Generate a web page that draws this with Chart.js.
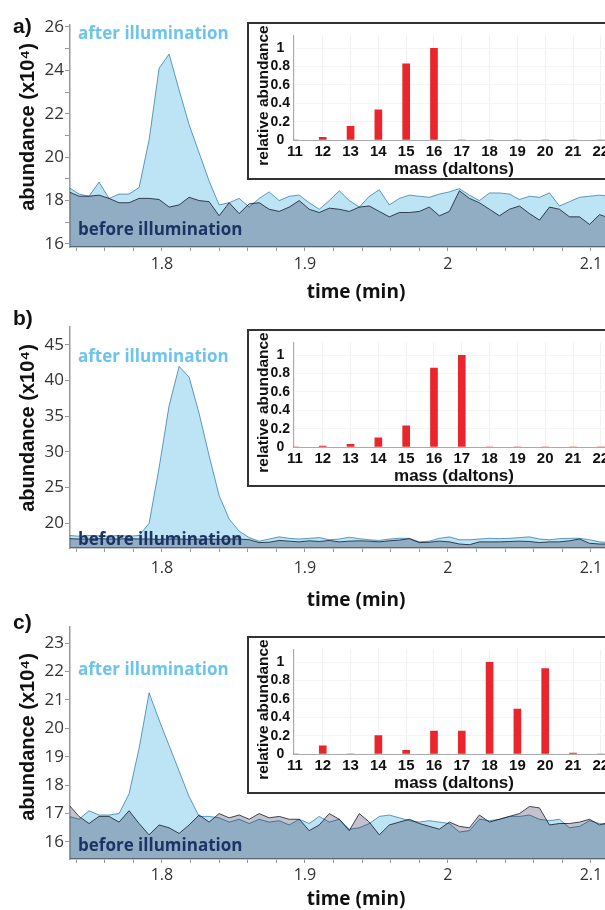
<!DOCTYPE html>
<html><head><meta charset="utf-8">
<script src="https://cdn.jsdelivr.net/npm/chart.js@4"></script>
<style>
html,body{margin:0;padding:0;background:#fff;}
body{width:605px;height:910px;overflow:hidden;position:relative;}
canvas{display:block;}
.mainc{position:absolute;left:0;}
.inset{position:absolute;left:247px;width:366px;height:154px;border:2px solid #333;background:#fff;}
.lbl{position:absolute;left:13px;font-family:"Liberation Sans",Arial,sans-serif;font-weight:bold;font-size:21px;line-height:21px;color:#111;}
.after,.before{position:absolute;left:78px;font-family:"Open Sans",sans-serif;font-weight:700;font-size:17px;line-height:20px;white-space:nowrap;}
.after{color:#6cc4ec;}
.before{color:#1c3366;}
</style>
</head>
<body>
<canvas id="mA" class="mainc" width="642" height="302" style="top:0px"></canvas>
<canvas id="mB" class="mainc" width="642" height="308" style="top:302px"></canvas>
<canvas id="mC" class="mainc" width="642" height="307" style="top:602px"></canvas>
<div class="lbl" style="top:15px">a)</div>
<div class="lbl" style="top:307px">b)</div>
<div class="lbl" style="top:611px">c)</div>
<div class="after" style="top:23px">after illumination</div>
<div class="before" style="top:219px">before illumination</div>
<div class="after" style="top:346px">after illumination</div>
<div class="before" style="top:529px">before illumination</div>
<div class="after" style="top:659px">after illumination</div>
<div class="before" style="top:835px">before illumination</div>
<div class="inset" style="top:22px"><canvas id="iA" width="366" height="154"></canvas></div>
<div class="inset" style="top:329px"><canvas id="iB" width="366" height="154"></canvas></div>
<div class="inset" style="top:636px"><canvas id="iC" width="366" height="154"></canvas></div>
<script>
// ---- data ----
const times = [1.735,1.742,1.749,1.756,1.763,1.770,1.777,1.784,1.791,1.798,1.805,1.812,1.819,1.826,1.833,1.840,1.847,1.854,1.861,1.868,1.875,1.882,1.889,1.896,1.903,1.910,1.917,1.924,1.931,1.938,1.945,1.952,1.959,1.966,1.973,1.980,1.987,1.994,2.001,2.008,2.015,2.022,2.029,2.036,2.043,2.050,2.057,2.064,2.071,2.078,2.085,2.092,2.099,2.106,2.113];

const afterA = [18.6,18.3,18.2,18.85,18.1,18.3,18.3,18.6,20.8,24.1,24.75,23.1,21.5,20.2,18.9,17.8,17.9,18.1,17.7,18.1,18.4,18.0,18.2,18.25,17.9,17.6,18.0,18.45,18.0,17.7,18.2,18.5,17.8,18.1,18.25,18.2,18.15,18.3,18.4,18.55,18.25,18.0,18.35,18.35,18.3,18.05,18.2,18.15,18.35,17.75,17.95,18.15,18.2,18.25,18.2];
const beforeA = [18.4,18.2,18.2,18.25,18.1,17.9,17.9,18.1,18.1,18.05,17.7,17.8,18.15,18.0,17.95,17.3,17.9,17.4,17.85,17.9,17.6,17.5,17.7,18.0,17.6,17.45,17.65,17.6,17.5,17.7,17.75,17.5,17.25,17.45,17.45,17.5,17.7,17.3,17.5,18.45,18.1,17.9,17.6,17.3,17.6,17.75,17.4,17.1,17.7,17.6,17.25,17.25,16.9,17.35,17.2];

const afterB = [18.3,18.2,18.3,18.25,18.2,18.3,18.2,18.3,20.0,27.8,36.5,42.0,40.5,35.4,29.5,23.9,20.6,18.9,18.0,17.5,17.8,18.1,17.9,17.8,17.9,18.0,17.7,17.8,18.05,17.85,17.7,17.6,17.8,17.9,17.9,17.4,17.5,17.9,18.1,17.7,17.7,17.8,17.9,17.85,17.9,18.0,18.1,17.8,17.7,17.85,17.9,17.9,17.7,17.4,17.3];
const beforeB = [17.85,17.8,17.8,17.85,17.8,17.8,17.85,17.8,17.8,17.75,17.8,17.8,17.75,17.8,17.8,17.75,17.8,17.8,17.7,17.3,17.35,17.6,17.5,17.4,17.55,17.45,17.6,17.4,17.5,17.55,17.5,17.4,17.55,17.65,17.85,17.3,17.35,17.5,17.4,17.1,17.0,17.4,17.4,17.4,17.45,17.5,17.45,17.3,17.4,17.4,17.55,17.8,17.2,17.1,17.1];

const afterC = [16.9,16.8,17.1,16.95,16.95,17.0,17.7,19.3,21.25,20.3,19.4,18.5,17.6,16.9,16.9,16.85,16.7,16.8,16.65,16.8,16.7,16.75,16.6,16.8,16.65,16.9,16.7,16.8,16.45,16.5,16.65,16.9,16.95,16.85,16.75,16.7,16.75,16.7,16.65,16.35,16.4,16.8,16.75,16.8,16.9,16.9,16.95,16.8,16.75,16.8,16.5,16.55,16.75,16.65,16.6];
const beforeC = [17.3,16.9,16.65,16.9,16.9,16.7,17.1,16.65,16.25,16.6,16.5,16.3,16.6,16.95,16.7,17.0,16.85,16.95,16.8,17.0,16.85,16.9,16.8,16.8,16.4,16.6,17.0,16.8,16.4,17.0,16.7,16.25,16.6,16.7,16.8,16.65,16.55,16.45,16.7,16.55,16.5,16.95,16.7,16.8,16.9,17.0,17.25,17.2,16.6,16.65,16.65,16.7,16.8,16.6,16.7];

const masses = [11,12,13,14,15,16,17,18,19,20,21,22];
const insetA = [0,0.03,0.15,0.33,0.83,1.0,0,0,0,0,0,0];
const insetB = [0,0.01,0.03,0.10,0.23,0.86,1.0,0,0,0,0,0];
const insetC = [0,0.09,0,0.20,0.04,0.25,0.25,1.0,0.49,0.93,0.01,0];

// ---- ticks ----
const xTickVals = [1.74,1.76,1.78,1.80,1.82,1.84,1.86,1.88,1.90,1.92,1.94,1.96,1.98,2.00,2.02,2.04,2.06,2.08,2.10,2.12];
const xTickLabelVals = [1.8,1.9,2.0,2.1];
const yTicksA = [16,17,18,19,20,21,22,23,24,25,26];
const yLabelsA = [16,18,20,22,24,26];
const yTicksB = [20,25,30,35,40,45];
const yLabelsB = [20,25,30,35,40,45];
const yTicksC = [16,17,18,19,20,21,22,23];
const yLabelsC = [16,17,18,19,20,21,22,23];
const insetYTicks = [0,0.2,0.4,0.6,0.8,1];

const multiplyPlugin = {
  id:'multiplyFill',
  beforeDatasetsDraw(chart){ chart.ctx.save(); chart.ctx.globalCompositeOperation = 'multiply'; },
  afterDatasetsDraw(chart){ chart.ctx.restore(); }
};

// vertical axis title placed at a given point
const sideTitle = {
  id:'sideTitle',
  afterDraw(chart, args, o){
    const ctx = chart.ctx; ctx.save();
    ctx.translate(o.x, o.y); ctx.rotate(-Math.PI/2);
    ctx.font = o.font; ctx.fillStyle = o.color || '#111';
    ctx.textAlign = 'center'; ctx.textBaseline = 'middle';
    ctx.fillText(o.text, 0, 0); ctx.restore();
  }
};

function pts(vals){ return times.map((t,i)=>({x:t, y:vals[i]})); }

function mainChart(id, after, before, g){
  new Chart(document.getElementById(id), {
    type:'line',
    data:{datasets:[
      {data:pts(after), borderColor:'rgb(105,160,192)', borderWidth:1, backgroundColor:'rgb(188,228,245)', fill:'start', pointRadius:0, tension:0},
      {data:pts(before), borderColor:'rgb(70,76,88)', borderWidth:1, backgroundColor:'rgb(196,194,204)', fill:'start', pointRadius:0, tension:0}
    ]},
    options:{
      responsive:false, animation:false, events:[],
      layout:{padding:{top:g.padTop, left:0, right:0, bottom:0}},
      plugins:{legend:{display:false}, tooltip:{enabled:false},
        sideTitle:{text:'abundance (x10⁴)', x:28, y:g.titleY, font:'bold 20px "Liberation Sans", Arial, sans-serif', color:'#111'}},
      scales:{
        x:{type:'linear', min:1.7357, max:2.1357,
          afterBuildTicks:s=>{ s.ticks = xTickVals.map(v=>({value:v})); },
          afterFit:s=>{ s.height = g.xAxisH; },
          ticks:{autoSkip:false, maxRotation:0, padding:g.xPad, color:'#333', font:{family:'Open Sans', size:16},
            callback:v=> xTickLabelVals.some(l=>Math.abs(l-v)<1e-6) ? String(+(+v).toFixed(1)) : ''},
          grid:{drawOnChartArea:false, drawTicks:true, tickLength:4, color:'#999', lineWidth:1},
          border:{color:'#999', width:1.5},
          title:{display:true, text:'time (min)', color:'#111', font:{family:'Open Sans', weight:'bold', size:19, lineHeight:1}, padding:{top:0, bottom:0}}
        },
        y:{type:'linear', min:g.yMin, max:g.yMax,
          afterBuildTicks:s=>{ s.ticks = g.yTicks.map(v=>({value:v})); },
          afterFit:s=>{ s.width = 70; },
          ticks:{autoSkip:false, padding:1, color:'#333', font:{family:'Open Sans', size:17},
            callback:v=> g.yLabels.includes(v) ? String(v) : ''},
          grid:{drawOnChartArea:false, drawTicks:true, tickLength:5, color:'#999', lineWidth:1},
          border:{color:'#999', width:1.5},
          title:{display:false}
        }
      }
    },
    plugins:[multiplyPlugin, sideTitle]
  });
}

function insetChart(id, vals){
  new Chart(document.getElementById(id), {
    type:'bar',
    data:{datasets:[{data:masses.map((m,i)=>({x:m, y:vals[i]})), backgroundColor:'#e8262b', borderWidth:0, barThickness:7}]},
    options:{
      responsive:false, animation:false, events:[],
      layout:{padding:{top:3, left:0, right:0, bottom:0}},
      plugins:{legend:{display:false}, tooltip:{enabled:false},
        sideTitle:{text:'relative abundance', x:15, y:71.5, font:'bold 15.5px "Liberation Sans", Arial, sans-serif', color:'#111'}},
      scales:{
        x:{type:'linear', min:10.93, max:22.51, offset:false,
          afterBuildTicks:s=>{ s.ticks = masses.map(v=>({value:v})); },
          afterFit:s=>{ s.height = 38; },
          ticks:{autoSkip:false, maxRotation:0, padding:3, color:'#111', font:{family:'Liberation Sans', weight:'bold', size:15}, callback:v=>String(v)},
          grid:{offset:false, color:'#f1f1f1', drawTicks:false},
          border:{color:'#aaa', width:1},
          title:{display:true, text:'mass (daltons)', color:'#111', font:{family:'Liberation Sans', weight:'bold', size:17, lineHeight:1}, padding:{top:0, bottom:0}}
        },
        y:{type:'linear', min:0, max:1.14,
          afterBuildTicks:s=>{ s.ticks = insetYTicks.map(v=>({value:v})); },
          afterFit:s=>{ s.width = 44; },
          ticks:{crossAlign:'center', padding:3, color:'#111', font:{family:'Liberation Sans', weight:'bold', size:14}, callback:v=>String(v)},
          grid:{color:'#f4f4f4', drawTicks:false},
          border:{color:'#aaa', width:1},
          title:{display:false}
        }
      }
    },
    plugins:[sideTitle]
  });
}

mainChart('mA', afterA, beforeA, {padTop:25, xAxisH:55, xPad:4, yMin:15.86, yMax:26.09, yTicks:yTicksA, yLabels:yLabelsA, titleY:127});
mainChart('mB', afterB, beforeB, {padTop:25, xAxisH:62, xPad:7, yMin:16.54, yMax:47.52, yTicks:yTicksB, yLabels:yLabelsB, titleY:126});
mainChart('mC', afterC, beforeC, {padTop:25, xAxisH:50, xPad:3, yMin:15.40, yMax:23.57, yTicks:yTicksC, yLabels:yLabelsC, titleY:135});
insetChart('iA', insetA);
insetChart('iB', insetB);
insetChart('iC', insetC);
</script>
</body></html>
